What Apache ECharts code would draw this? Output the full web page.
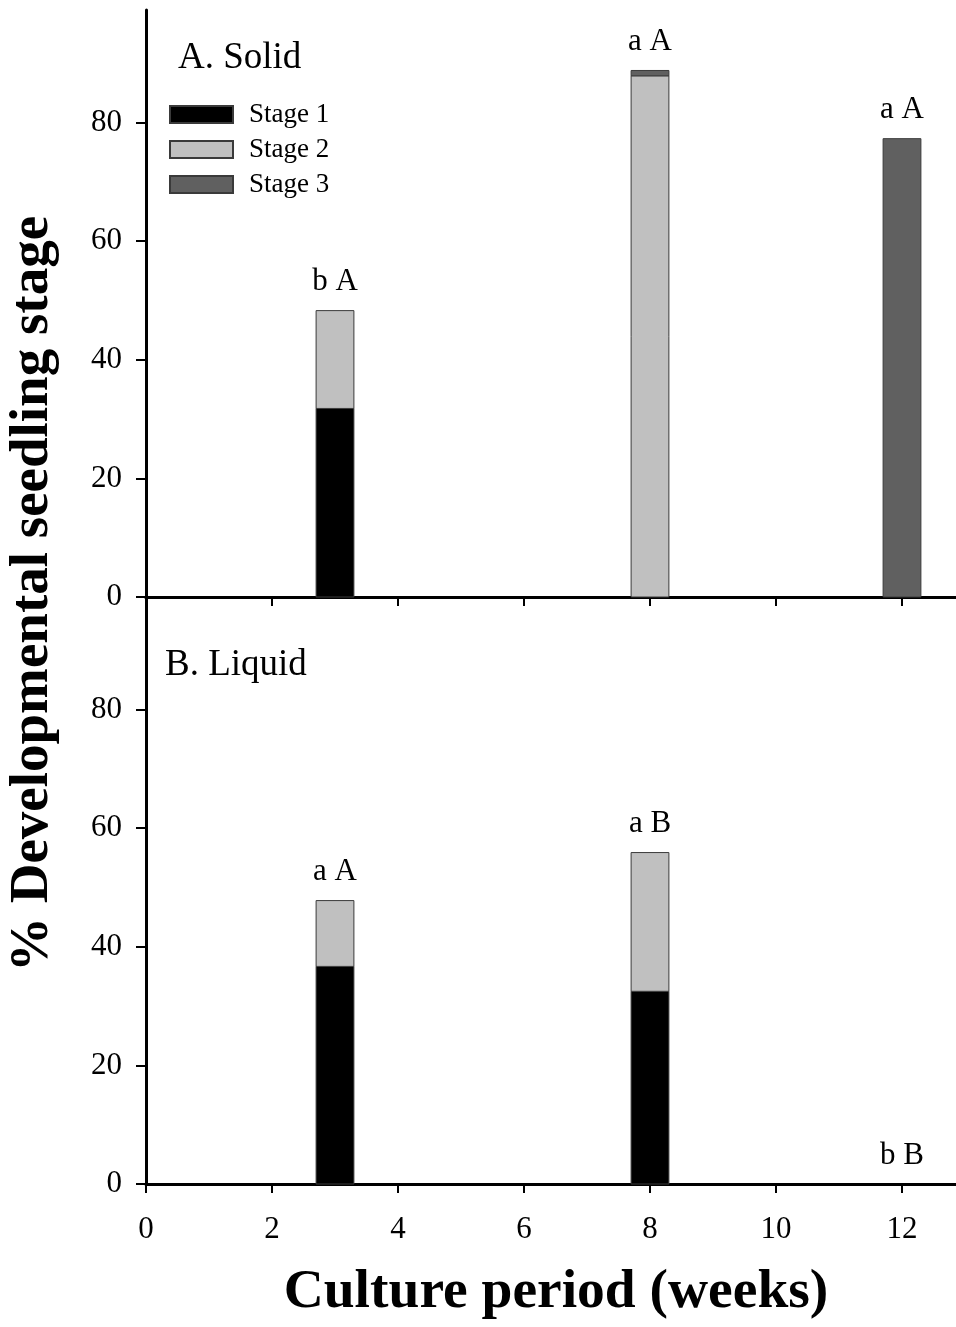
<!DOCTYPE html>
<html>
<head>
<meta charset="utf-8">
<script src="https://cdn.jsdelivr.net/npm/echarts@6.0.0/dist/echarts.min.js"></script>
<style>
  html, body { margin: 0; padding: 0; background: #fff; }
  #chart { width: 956px; height: 1327px; }
</style>
</head>
<body>
<div id="chart"></div>
<script>
// 培养周数
var weeks = [3, 8, 12];
var stageNames = ['Stage 1', 'Stage 2', 'Stage 3'];
var stageColors = ['#000000', '#c0c0c0', '#606060'];

// A. Solid
var solidStage1 = [31.8, 0, 0];
var solidStage2 = [16.5, 87.9, 0];
var solidStage3 = [0, 0.9, 77.3];
var solidLetters = ['b A', 'a A', 'a A'];

// B. Liquid
var liquidStage1 = [36.7, 32.5, 0];
var liquidStage2 = [11.1, 23.4, 0];
var liquidStage3 = [0, 0, 0];
var liquidLetters = ['a A', 'a B', 'b B'];

var yTicks = [0, 20, 40, 60, 80];
var xTicks = [0, 2, 4, 6, 8, 10, 12];

var serif = 'Liberation Serif';
var barHalf = 0.3; // 柱宽的一半（周）

// 值轴上的堆叠柱，用 custom 画
function renderBar(params, api) {
  var x = api.value(0), lo = api.value(1), hi = api.value(2);
  if (!(hi > lo)) return null;
  var p0 = api.coord([x - barHalf, hi]);
  var p1 = api.coord([x + barHalf, lo]);
  return {
    type: 'rect',
    shape: { x: p0[0], y: p0[1], width: p1[0] - p0[0], height: p1[1] - p0[1] },
    style: api.style()
  };
}

function stackSeries(stacks, idx) {
  var base = weeks.map(function () { return 0; });
  return stacks.map(function (vals, k) {
    var data = weeks.map(function (w, i) {
      var lo = base[i];
      base[i] = lo + vals[i];
      return [w, lo, base[i]];
    });
    return {
      name: stageNames[k],
      type: 'custom',
      xAxisIndex: idx,
      yAxisIndex: idx,
      renderItem: renderBar,
      itemStyle: { color: stageColors[k], borderColor: '#3a3a3a', borderWidth: 1 },
      encode: { x: 0, y: [1, 2] },
      data: data
    };
  });
}

function letterSeries(stacks, letters, idx) {
  return {
    type: 'scatter',
    xAxisIndex: idx,
    yAxisIndex: idx,
    symbolSize: 0,
    silent: true,
    itemStyle: { opacity: 1 },
    label: {
      show: true,
      position: 'top',
      distance: 13,
      color: '#000',
      fontFamily: serif,
      fontSize: 31,
      formatter: function (p) { return letters[p.dataIndex]; }
    },
    data: weeks.map(function (w, i) {
      var total = 0;
      stacks.forEach(function (s) { total += s[i]; });
      return [w, total];
    })
  };
}

function xAxisOf(idx, showLabel) {
  return {
    type: 'value',
    gridIndex: idx,
    min: 0,
    max: 13,
    interval: 2,
    axisLine: { show: true, onZero: false, lineStyle: { color: '#000', width: 3 } },
    axisTick: { show: true, inside: false, length: 9, lineStyle: { color: '#000', width: 2 }, customValues: xTicks },
    axisLabel: {
      show: showLabel, margin: 30, color: '#000', fontFamily: serif, fontSize: 31,
      customValues: xTicks
    },
    splitLine: { show: false }
  };
}

function yAxisOf(idx) {
  return {
    type: 'value',
    gridIndex: idx,
    min: 0,
    max: 99,
    interval: 20,
    axisLine: { show: true, lineStyle: { color: '#000', width: 3 } },
    axisTick: { show: true, inside: false, length: 10, lineStyle: { color: '#000', width: 2 }, customValues: yTicks },
    axisLabel: { margin: 24, color: '#000', fontFamily: serif, fontSize: 31, customValues: yTicks },
    splitLine: { show: false }
  };
}

var solidStacks = [solidStage1, solidStage2, solidStage3];
var liquidStacks = [liquidStage1, liquidStage2, liquidStage3];

var myChart = echarts.init(document.getElementById('chart'));
var option = {
  backgroundColor: '#fff',
  animation: false,
  grid: [
    { left: 146, width: 819, top: 10, height: 587, outerBoundsMode: 'none' },
    { left: 146, width: 819, top: 597, height: 587, outerBoundsMode: 'none' }
  ],
  legend: {
    data: stageNames,
    orient: 'vertical',
    left: 169,
    top: 101,
    padding: 0,
    itemWidth: 63,
    itemHeight: 17,
    itemGap: 8,
    icon: 'rect',
    selectedMode: false,
    textStyle: { color: '#000', fontFamily: serif, fontSize: 27, padding: [0, 0, 0, 11] }
  },
  xAxis: [
    xAxisOf(0, false),
    xAxisOf(1, true),
    // 顶部边框
    {
      type: 'value', gridIndex: 0, position: 'top', min: 0, max: 13,
      axisLine: { show: true, lineStyle: { color: '#000', width: 3 } },
      axisTick: { show: false }, axisLabel: { show: false }, splitLine: { show: false }
    }
  ],
  yAxis: [yAxisOf(0), yAxisOf(1)],
  graphic: [
    {
      type: 'text', left: 178, top: 40,
      style: { text: 'A. Solid', fontFamily: serif, fontSize: 37, fill: '#000' }
    },
    {
      type: 'text', left: 165, top: 647,
      style: { text: 'B. Liquid', fontFamily: serif, fontSize: 37, fill: '#000' }
    },
    {
      type: 'text', x: 556, y: 1293,
      style: {
        text: 'Culture period (weeks)', fontFamily: serif, fontWeight: 'bold', fontSize: 55.5,
        fill: '#000', align: 'center', verticalAlign: 'middle'
      }
    },
    {
      type: 'text', x: 33, y: 594, rotation: Math.PI / 2,
      style: {
        text: '% Developmental seedling stage', fontFamily: serif, fontWeight: 'bold', fontSize: 55,
        fill: '#000', align: 'center', verticalAlign: 'middle'
      }
    }
  ],
  series: stackSeries(solidStacks, 0)
    .concat(stackSeries(liquidStacks, 1))
    .concat([
      letterSeries(solidStacks, solidLetters, 0),
      letterSeries(liquidStacks, liquidLetters, 1)
    ])
};
myChart.setOption(option);
window.addEventListener('resize', function () {
  myChart.resize();
});
</script>
</body>
</html>
